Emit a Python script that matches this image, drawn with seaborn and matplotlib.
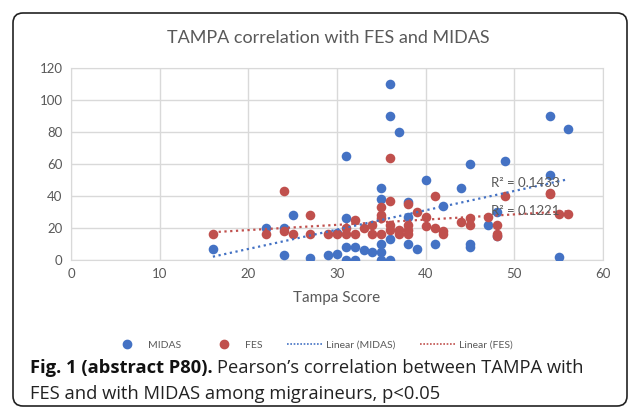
import numpy as np
import matplotlib
matplotlib.use('Agg')
import matplotlib.pyplot as plt
import seaborn as sns
from matplotlib.lines import Line2D
from matplotlib.patches import FancyBboxPatch

# ── Data ────────────────────────────────────────────────────
midas_x = [16, 22, 24, 24, 25, 27, 29, 30, 30, 31, 31, 31, 31, 32, 32, 33, 34,
           35, 35, 35, 35, 35, 36, 36, 36, 36, 37, 38, 38, 38, 39, 40, 41, 42,
           44, 45, 45, 45, 47, 48, 48, 49, 54, 54, 55, 56]
midas_y = [7, 20, 20, 3, 28, 1, 3, 4, 17, 65, 26, 8, 0, 8, 0, 6, 5,
           45, 38, 10, 5, 0, 110, 90, 13, 0, 80, 36, 27, 10, 7, 50, 10, 34,
           45, 60, 10, 8, 22, 30, 15, 62, 90, 53, 2, 82]

fes_x = [16, 22, 24, 24, 25, 27, 27, 29, 30, 31, 31, 32, 32, 33, 34, 34,
         35, 35, 35, 35, 36, 36, 36, 36, 37, 37, 38, 38, 38, 38, 39, 40, 40,
         41, 41, 42, 42, 44, 45, 45, 47, 48, 48, 48, 49, 54, 54, 55, 56]
fes_y = [16, 16, 43, 18, 16, 28, 16, 16, 16, 20, 16, 25, 16, 20, 22, 16,
         33, 28, 26, 16, 64, 37, 22, 19, 19, 16, 35, 22, 19, 16, 30, 27, 21,
         40, 20, 18, 16, 24, 26, 22, 27, 22, 16, 15, 40, 42, 41, 29, 29]

x_ticks = [0, 10, 20, 30, 40, 50, 60]
y_ticks = [0, 20, 40, 60, 80, 100, 120]
r2_labels = ['R² = 0.1433', 'R² = 0.1221']

BLUE = '#4472C4'
RED = '#C0504D'
GREY = '#595959'

# ── Figure ──────────────────────────────────────────────────
sns.set_style('white')
plt.rcParams['font.family'] = ['Lato', 'DejaVu Sans']

fig = plt.figure(figsize=(6.37, 4.08), dpi=100)
ax = fig.add_axes([71 / 637, 1 - 260 / 408, 532 / 637, 192 / 408])

sns.scatterplot(x=midas_x, y=midas_y, color=BLUE, s=48, linewidth=0,
                ax=ax, zorder=3)
sns.scatterplot(x=fes_x, y=fes_y, color=RED, s=48, linewidth=0,
                ax=ax, zorder=3)
sns.regplot(x=np.array(midas_x), y=np.array(midas_y), scatter=False, ci=None,
            color=BLUE, line_kws=dict(ls=(0, (1, 1.6)), lw=1.6, zorder=4), ax=ax)
sns.regplot(x=np.array(fes_x), y=np.array(fes_y), scatter=False, ci=None,
            color=RED, line_kws=dict(ls=(0, (1, 1.6)), lw=1.6, zorder=4), ax=ax)

ax.set_xlim(0, 60)
ax.set_ylim(0, 120)
ax.set_xticks(x_ticks)
ax.set_yticks(y_ticks)
ax.grid(True, color='#D9D9D9', lw=1)
for sp in ax.spines.values():
    sp.set_color('#D9D9D9')
ax.tick_params(length=0, labelsize=9.5, labelcolor=GREY, pad=6)
ax.set_xlabel('Tampa Score', fontsize=11, color=GREY, labelpad=8)
ax.set_ylabel('')

ax.text(47.4, 48, r2_labels[0], fontsize=9.5, color=GREY, va='center', zorder=5)
ax.text(47.4, 30.5, r2_labels[1], fontsize=9.5, color=GREY, va='center', zorder=5)

fig.text(328 / 637, 1 - 38 / 408, 'TAMPA correlation with FES and MIDAS',
         ha='center', va='center', fontsize=13, color=GREY)

# legend
handles = [
    Line2D([], [], ls='', marker='o', ms=6, color=BLUE),
    Line2D([], [], ls='', marker='o', ms=6, color=RED),
    Line2D([], [], ls=(0, (1, 1)), lw=1.2, color=BLUE),
    Line2D([], [], ls=(0, (1, 1)), lw=1.2, color=RED),
]
labels = ['MIDAS', 'FES', 'Linear (MIDAS)', 'Linear (FES)']
fig.legend(handles, labels, loc='center', bbox_to_anchor=(311 / 637, 1 - 345 / 408),
           ncol=4, frameon=False, fontsize=7.5, labelcolor=GREY,
           handlelength=3.4, columnspacing=2.4, handletextpad=0.3)

# caption
cap_font = ['Open Sans', 'DejaVu Sans']
t1 = fig.text(30 / 637, 1 - 368 / 408, 'Fig. 1 (abstract P80).', fontsize=13.2,
              fontweight='bold', family=cap_font, va='center', color='#111111')
fig.canvas.draw()
bb = t1.get_window_extent(renderer=fig.canvas.get_renderer())
x_end = bb.x1 / fig.bbox.width
fig.text(x_end + 4 / 637, 1 - 368 / 408, "Pearson’s correlation between TAMPA with",
         fontsize=13.2, family=cap_font, va='center', color='#222222')
fig.text(30 / 637, 1 - 394 / 408, 'FES and with MIDAS among migraineurs, p<0.05',
         fontsize=13.2, family=cap_font, va='center', color='#222222')

# rounded border around the whole panel
border = FancyBboxPatch((0.13, 0.02), 6.14, 3.93,
                        boxstyle='round,pad=0,rounding_size=0.1',
                        transform=fig.dpi_scale_trans, fill=False,
                        lw=1.2, ec='#222222')
fig.patches.append(border)

plt.savefig('out.png', dpi=100)
